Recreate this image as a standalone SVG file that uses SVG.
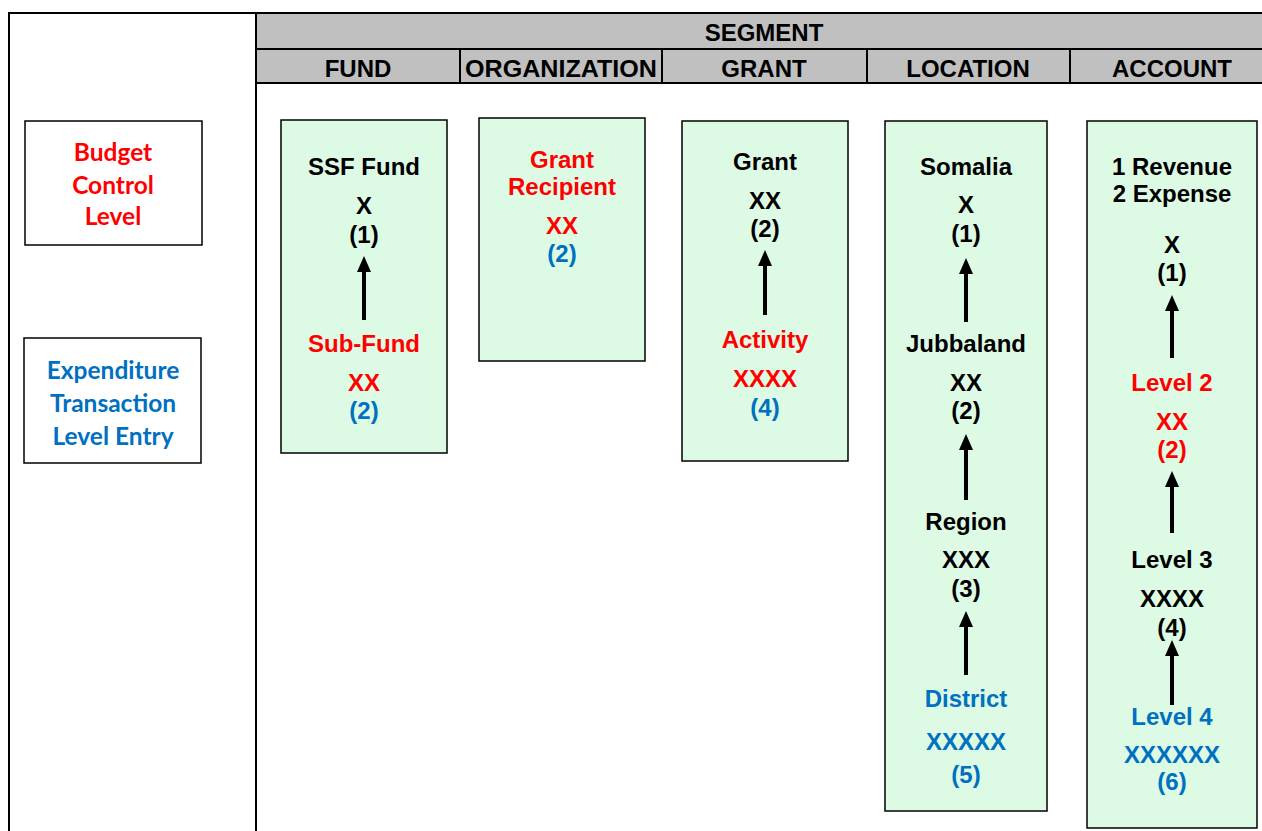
<svg xmlns="http://www.w3.org/2000/svg" width="1262" height="831" viewBox="0 0 1262 831">
<defs>
<marker id="ah" markerUnits="userSpaceOnUse" markerWidth="16" markerHeight="14" refX="0" refY="0" orient="auto" viewBox="0 -7 16 14">
<path d="M0,-7 L16,0 L0,7 Z" fill="#000"/>
</marker>
</defs>
<style>
.t{font-family:"Liberation Sans",Arial,sans-serif;font-weight:bold;font-size:24px;text-anchor:middle}
.c{font-family:Lato,"Open Sans",sans-serif;font-weight:bold;font-size:24.5px;text-anchor:middle}
.k{fill:#000}.r{fill:#FF0000}.b{fill:#0070C0}
.box{fill:#DDFAE4;stroke:#000;stroke-width:1.5}
.lb{fill:#fff;stroke:#000;stroke-width:1.5}
.ln{stroke:#000;stroke-width:2;fill:none}
.ar{stroke:#000;stroke-width:4;marker-end:url(#ah)}
</style>
<rect width="1262" height="831" fill="#fff"/>
<g id="header">
<rect x="256" y="13" width="1006" height="70" fill="#C0C0C0"/>
<path class="ln" d="M9,831 V13 H1262 M256,13 V831 M256,49 H1262 M256,83 H1262 M460,49 V83 M662,49 V83 M867,49 V83 M1070,49 V83"/>
<text class="t k" x="764" y="41">SEGMENT</text>
<text class="t k" x="358" y="77">FUND</text>
<text class="t k" x="561" y="77" textLength="192" lengthAdjust="spacingAndGlyphs">ORGANIZATION</text>
<text class="t k" x="764" y="77">GRANT</text>
<text class="t k" x="968" y="77">LOCATION</text>
<text class="t k" x="1172" y="77">ACCOUNT</text>
</g>
<g id="legend-budget">
<rect class="lb" x="25" y="121" width="177" height="124"/>
<text class="c r" x="113" y="161">Budget</text>
<text class="c r" x="113" y="194">Control</text>
<text class="c r" x="113" y="225">Level</text>
</g>
<g id="legend-expenditure">
<rect class="lb" x="24" y="338" width="177" height="125"/>
<text class="c b" x="113" y="379">Expenditure</text>
<text class="c b" x="113" y="412">Transaction</text>
<text class="c b" x="113" y="445">Level Entry</text>
</g>
<g id="fund">
<rect class="box" x="281" y="120" width="166" height="333"/>
<text class="t k" x="364" y="175">SSF Fund</text>
<text class="t k" x="364" y="214">X</text>
<text class="t k" x="364" y="243">(1)</text>
<text class="t r" x="364" y="352">Sub-Fund</text>
<text class="t r" x="364" y="391">XX</text>
<text class="t b" x="364" y="419">(2)</text>
</g>
<g id="organization">
<rect class="box" x="479" y="118" width="166" height="243"/>
<text class="t r" x="562" y="168">Grant</text>
<text class="t r" x="562" y="195">Recipient</text>
<text class="t r" x="562" y="234">XX</text>
<text class="t b" x="562" y="262">(2)</text>
</g>
<g id="grant">
<rect class="box" x="682" y="121" width="166" height="340"/>
<text class="t k" x="765" y="170">Grant</text>
<text class="t k" x="765" y="209">XX</text>
<text class="t k" x="765" y="237">(2)</text>
<text class="t r" x="765" y="348">Activity</text>
<text class="t r" x="765" y="387">XXXX</text>
<text class="t b" x="765" y="416">(4)</text>
</g>
<g id="location">
<rect class="box" x="885" y="121" width="162" height="690"/>
<text class="t k" x="966" y="175">Somalia</text>
<text class="t k" x="966" y="213">X</text>
<text class="t k" x="966" y="242">(1)</text>
<text class="t k" x="966" y="352">Jubbaland</text>
<text class="t k" x="966" y="391">XX</text>
<text class="t k" x="966" y="419">(2)</text>
<text class="t k" x="966" y="530">Region</text>
<text class="t k" x="966" y="568">XXX</text>
<text class="t k" x="966" y="597">(3)</text>
<text class="t b" x="966" y="707">District</text>
<text class="t b" x="966" y="750">XXXXX</text>
<text class="t b" x="966" y="783">(5)</text>
</g>
<g id="account">
<rect class="box" x="1087" y="121" width="170" height="707"/>
<text class="t k" x="1172" y="175">1 Revenue</text>
<text class="t k" x="1172" y="202">2 Expense</text>
<text class="t k" x="1172" y="253">X</text>
<text class="t k" x="1172" y="281">(1)</text>
<text class="t r" x="1172" y="391">Level 2</text>
<text class="t r" x="1172" y="430">XX</text>
<text class="t r" x="1172" y="458">(2)</text>
<text class="t k" x="1172" y="568">Level 3</text>
<text class="t k" x="1172" y="607">XXXX</text>
<text class="t k" x="1172" y="636">(4)</text>
<text class="t b" x="1172" y="725">Level 4</text>
<text class="t b" x="1172" y="763">XXXXXX</text>
<text class="t b" x="1172" y="790">(6)</text>
</g>
<g id="connectors">
<line class="ar" x1="364" y1="320" x2="364" y2="272"/>
<line class="ar" x1="765" y1="315" x2="765" y2="266"/>
<line class="ar" x1="966" y1="322" x2="966" y2="274"/>
<line class="ar" x1="966" y1="500" x2="966" y2="450"/>
<line class="ar" x1="966" y1="675" x2="966" y2="627"/>
<line class="ar" x1="1172" y1="358" x2="1172" y2="311"/>
<line class="ar" x1="1172" y1="533" x2="1172" y2="487"/>
<line class="ar" x1="1172" y1="705" x2="1172" y2="656"/>
</g>
</svg>
